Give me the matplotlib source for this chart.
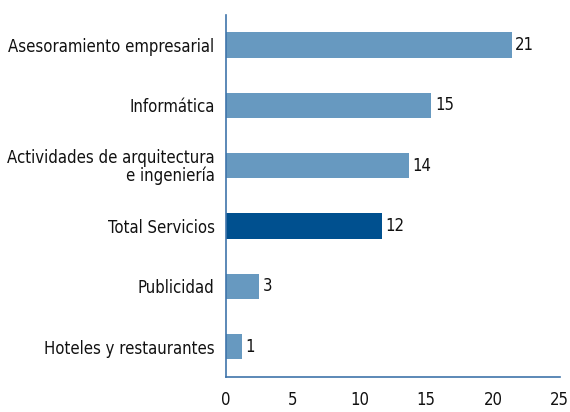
import matplotlib
matplotlib.use("Agg")
import matplotlib.pyplot as plt

categories = ["Asesoramiento empresarial", "Informática",
              "Actividades de arquitectura\ne ingeniería", "Total Servicios",
              "Publicidad", "Hoteles y restaurantes"]
values = [21.4, 15.4, 13.7, 11.7, 2.5, 1.2]
labels = ["21", "15", "14", "12", "3", "1"]
highlight = "Total Servicios"

plt.rcParams['font.family'] = ['DejaVu Sans']
plt.rcParams['font.stretch'] = 'condensed'

fig = plt.figure(figsize=(5.7, 4.12), dpi=100)
ax = fig.add_axes([0.396, 0.085, 0.586, 0.879])

colors = ['#00508f' if c == highlight else '#6799c0' for c in categories]
pos = list(range(len(categories)))
bars = ax.barh(pos, values, height=0.42, color=colors)
for b, lab in zip(bars, labels):
    ax.text(b.get_width() + 0.25, b.get_y() + b.get_height() / 2, lab,
            va='center', ha='left', fontsize=12, color='#111111')

ax.set_yticks(pos)
ax.set_yticklabels(categories, fontsize=12, linespacing=0.95)
ax.set_ylim(len(categories) - 0.5, -0.5)
ax.set_xlim(0, 25)
ax.set_xticks([0, 5, 10, 15, 20, 25])
ax.tick_params(axis='both', length=0, labelsize=12, colors='#111111')
ax.tick_params(axis='x', pad=10)
ax.tick_params(axis='y', pad=8)

for s in ['top', 'right']:
    ax.spines[s].set_visible(False)
for s in ['left', 'bottom']:
    ax.spines[s].set_color('#3f74aa')
    ax.spines[s].set_linewidth(1.2)

fig.savefig("out.png", dpi=100)
